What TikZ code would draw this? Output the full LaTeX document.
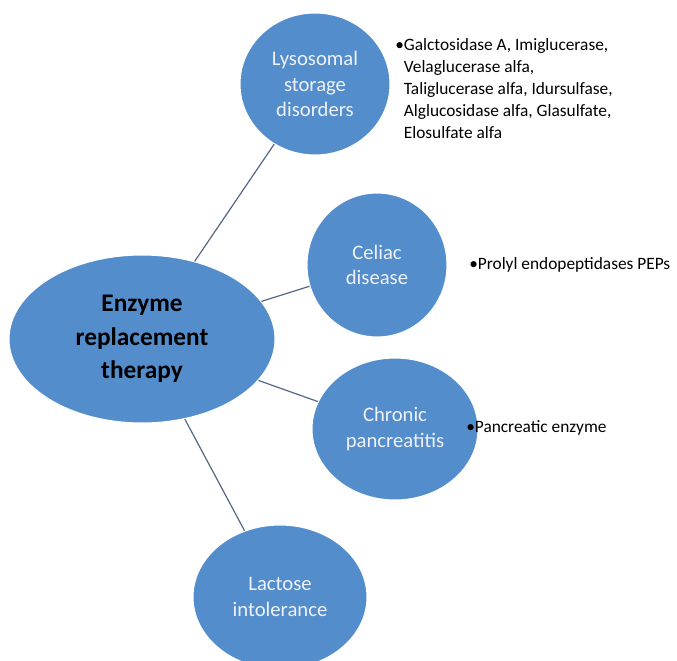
\documentclass[tikz,border=0pt]{standalone}
\usepackage{fontspec}
\setmainfont{Carlito}
\usetikzlibrary{shapes.geometric}

\definecolor{bubbleblue}{RGB}{84,141,204}
\definecolor{bubbletext}{RGB}{238,242,248}
\definecolor{linkgray}{RGB}{84,104,134}

\newcommand{\itembul}{\textbullet}
\newcommand{\itemgap}{\hphantom{\textbullet}}

\begin{document}
\begin{tikzpicture}[x=0.75pt,y=-0.75pt,
        bubble/.style={ellipse,fill=bubbleblue,draw=white,line width=0.8pt,inner sep=0pt,
            align=center,text=bubbletext,font=\fontsize{15.5}{19}\selectfont},
        hub/.style={bubble,text=black,font=\fontsize{19}{25}\selectfont\bfseries},
        items/.style={anchor=north west,align=left,inner sep=0pt,font=\fontsize{13}{16.5}\selectfont},
        link/.style={draw=linkgray,line width=0.9pt}]
    \clip (0,0) rectangle (677,660);
    \fill[white] (0,0) rectangle (677,660);

    \node[hub,minimum width=199.5pt,minimum height=126pt] (ert) at (142,339)
        {Enzyme\\replacement\\therapy};
    \node[bubble,minimum width=112.5pt,minimum height=106.5pt] (lsd) at (315,84)
        {Lysosomal\\storage\\disorders};
    \node[bubble,minimum width=105pt,minimum height=108pt] (celiac) at (377,265)
        {Celiac\\disease};
    \node[bubble,minimum width=124.5pt,minimum height=106.5pt] (pancr) at (395,429)
        {Chronic\\pancreatitis};
    \node[bubble,minimum width=130.5pt,minimum height=108pt] (lact) at (280,597)
        {Lactose\\intolerance};

    \draw[link] (ert) -- (lsd);
    \draw[link] (ert) -- (celiac);
    \draw[link] (ert) -- (pancr);
    \draw[link] (ert) -- (lact);

    % drug lists next to each disorder
    \node[items] (lsdlist) at (395,38)
        {\itembul Galctosidase A, Imiglucerase,\\
         \itemgap Velaglucerase alfa,\\
         \itemgap Taliglucerase alfa, Idursulfase,\\
         \itemgap Alglucosidase alfa, Glasulfate,\\
         \itemgap Elosulfate alfa};
    \node[items,anchor=west] (celiaclist) at (469,265) {\itembul Prolyl endopeptidases PEPs};
    \node[items,anchor=west] (pancrlist) at (466,428) {\itembul Pancreatic enzyme};
\end{tikzpicture}
\end{document}
